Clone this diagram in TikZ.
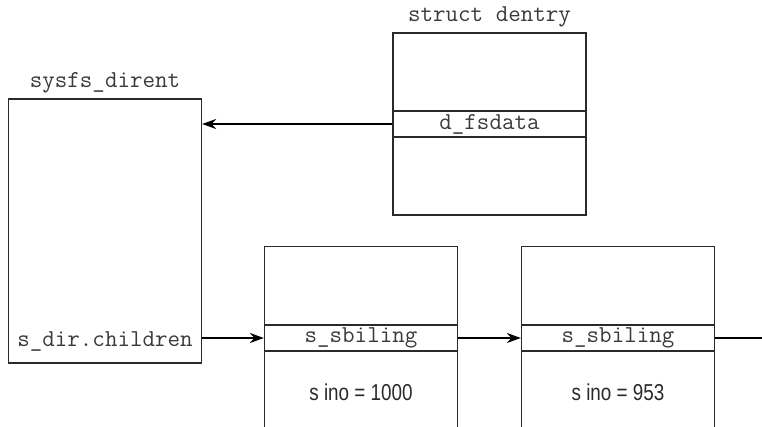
\documentclass[tikz,border=0pt]{standalone}
\usepackage{fontspec}
\setmainfont{Liberation Sans}
\newfontfamily\narrowsans[FakeStretch=0.82]{Liberation Sans}
\usetikzlibrary{arrows.meta}
\definecolor{ink}{HTML}{2A2A2A}
\definecolor{monoink}{HTML}{3A3A3A}
\tikzset{
  boxline/.style={draw=ink, line width=1.3pt},
  mono/.style={font=\ttfamily\fontsize{24.3}{27}\selectfont, text=monoink, inner sep=0pt},
  sans/.style={font=\narrowsans\fontsize{23}{26}\selectfont, text=ink, inner sep=0pt},
  rowbox/.style={boxline, minimum width=193pt, minimum height=26pt, inner sep=0pt, font=\ttfamily\fontsize{24.3}{27}\selectfont, text=monoink},
  ptr/.style={draw=black, line width=1.8pt, -{Stealth[length=14pt,width=10pt]}},
  link/.style={draw=black, line width=1.8pt}
}
\begin{document}
\begin{tikzpicture}[x=1pt,y=-1pt]
\useasboundingbox (0,0) rectangle (762,427);
% sysfs_dirent
\node[boxline, minimum width=193pt, minimum height=264pt, inner sep=0pt] (sd) at (105,231) {};
\node[mono] (sdlabel) at (105,83) {sysfs\_dirent};
\node[mono, anchor=base] (sdc) at (105,346) {s\_dir.children};
% struct dentry
\node[boxline, minimum width=193pt, minimum height=182pt, inner sep=0pt] (de) at (489.5,124) {};
\node[mono] (delabel) at (489.5,17) {struct dentry};
\node[rowbox] (dfs) at (489.5,124) {d\_fsdata};
% first sibling
\node[minimum width=193pt, minimum height=180pt, inner sep=0pt] (b1) at (361,337) {};
\draw[boxline] (b1.south west) -- (b1.north west) -- (b1.north east) -- (b1.south east);
\node[rowbox] (r1) at (361,338) {s\_sbiling};
\node[sans] (ino1) at (361,392) {s ino = 1000};
% second sibling
\node[minimum width=193pt, minimum height=180pt, inner sep=0pt] (b2) at (618,337) {};
\draw[boxline] (b2.south west) -- (b2.north west) -- (b2.north east) -- (b2.south east);
\node[rowbox] (r2) at (618,338) {s\_sbiling};
\node[sans] (ino2) at (618,392) {s ino = 953};
\coordinate (next) at (762,338);
% connectors
\draw[ptr] (dfs.west) -- (sd.east |- dfs.west);
\draw[ptr] (sd.east |- r1.west) -- (r1.west);
\draw[ptr] (r1.east) -- (r2.west);
\draw[link] (r2.east) -- (next);
\end{tikzpicture}
\end{document}
